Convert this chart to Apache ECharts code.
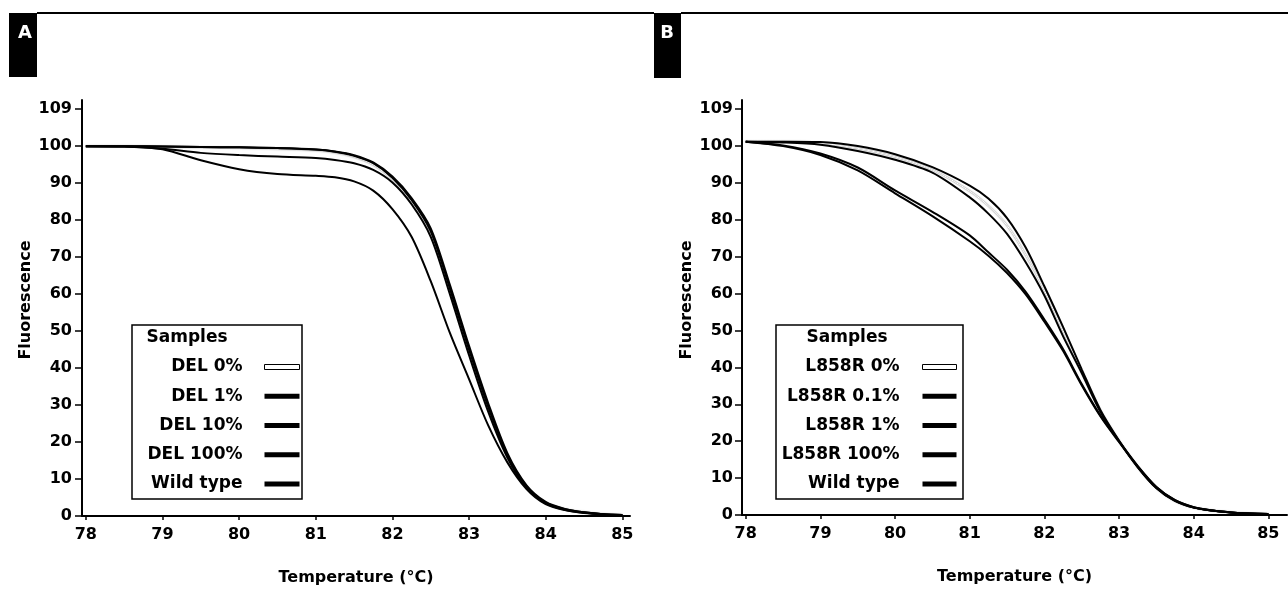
<!DOCTYPE html>
<html>
<head>
<meta charset="utf-8">
<script src="https://cdn.jsdelivr.net/npm/echarts@6/dist/echarts.min.js"></script>
<style>
html, body { margin: 0; background: #fff; }
#root { width: 1288px; height: 593px; }
</style>
</head>
<body>
<div id="root"></div>
<script>
// temperatures (°C) shared by both panels
const temps = [78, 78.5, 79, 79.5, 80, 80.5, 81, 81.25, 81.5, 81.75, 82, 82.25, 82.5, 82.75, 83, 83.25, 83.5, 83.75, 84, 84.25, 84.5, 84.75, 85];

// panel A - DEL
const namesA = ['DEL 0%', 'DEL 1%', 'DEL 10%', 'DEL 100%', 'Wild type'];
const del0 = [100, 100, 99.9, 99.7, 99.6, 99.3, 98.9, 98.3, 97.1, 95.0, 91.0, 85.0, 76.5, 61.0, 44.5, 29.0, 16.0, 7.8, 3.5, 1.8, 1.0, 0.5, 0.3];
const del1 = [100, 100, 99.9, 99.8, 99.7, 99.5, 99.1, 98.6, 97.6, 95.6, 91.8, 86.0, 77.8, 62.5, 46.0, 30.5, 17.0, 8.3, 3.8, 1.9, 1.0, 0.5, 0.3];
const del10 = [100, 99.9, 99.3, 98.2, 97.6, 97.2, 96.8, 96.3, 95.4, 93.6, 90.2, 84.3, 75.5, 60.0, 43.5, 28.2, 15.8, 7.6, 3.4, 1.7, 0.9, 0.5, 0.3];
const del100 = [100, 99.9, 99.2, 96.2, 93.8, 92.5, 92.0, 91.6, 90.5, 88.0, 83.0, 75.5, 63.5, 49.5, 37.0, 24.5, 14.5, 7.3, 3.2, 1.6, 0.8, 0.4, 0.2];
const wtA = [100, 100, 99.9, 99.8, 99.7, 99.5, 99.1, 98.5, 97.4, 95.4, 91.5, 85.5, 77.0, 61.5, 45.0, 29.5, 16.5, 8.0, 3.6, 1.8, 1.0, 0.5, 0.3];

// panel B - L858R
const namesB = ['L858R 0%', 'L858R 0.1%', 'L858R 1%', 'L858R 100%', 'Wild type'];
const l0 = [101.2, 101.2, 100.8, 99.4, 97.1, 93.6, 87.8, 83.8, 78.5, 70.5, 61.0, 50.0, 39.0, 28.3, 20.1, 13.0, 7.3, 3.8, 2.0, 1.2, 0.7, 0.4, 0.3];
const l01 = [101.2, 101.0, 100.4, 98.7, 96.3, 92.8, 86.1, 81.7, 76.2, 68.5, 59.5, 48.5, 38.5, 28.0, 20.0, 13.0, 7.3, 3.8, 2.0, 1.2, 0.7, 0.4, 0.3];
const l1 = [101.2, 100.2, 98.0, 94.2, 88.0, 82.2, 75.8, 71.2, 66.5, 60.5, 53.0, 45.0, 35.5, 27.0, 20.0, 13.3, 7.6, 4.0, 2.1, 1.2, 0.7, 0.4, 0.3];
const l100 = [101.2, 100.0, 97.6, 93.4, 87.2, 81.0, 74.2, 70.3, 65.6, 59.8, 52.4, 44.5, 35.2, 26.8, 19.8, 13.2, 7.6, 4.0, 2.1, 1.2, 0.7, 0.4, 0.3];
const wtB = [101.2, 101.2, 101.1, 100.0, 97.8, 94.3, 89.3, 85.8, 80.5, 72.5, 62.0, 51.0, 39.5, 28.5, 20.2, 13.0, 7.3, 3.8, 2.0, 1.2, 0.7, 0.4, 0.3];

// tick labels
const xTicks = [78, 79, 80, 81, 82, 83, 84, 85];
const yTicks = [0, 10, 20, 30, 40, 50, 60, 70, 80, 90, 100, 110];
const yTickLabels = ['0', '10', '20', '30', '40', '50', '60', '70', '80', '90', '100', '109'];

const font = 'DejaVu Sans';
const chart = echarts.init(document.getElementById('root'));

function pairs(vals) {
  return temps.map((t, i) => [t, vals[i]]);
}

function xAxis(idx, max) {
  return {
    gridIndex: idx, type: 'value', min: 77.95, max: max,
    name: 'Temperature (°C)', nameLocation: 'middle', nameGap: 54,
    nameTextStyle: { color: '#000', fontFamily: font, fontWeight: 'bold', fontSize: 16 },
    axisLine: { onZero: false, lineStyle: { color: '#000', width: 2 } },
    axisTick: { show: true, length: 4, customValues: xTicks, lineStyle: { color: '#000', width: 1.5 } },
    axisLabel: { customValues: xTicks, margin: 11, color: '#000', fontFamily: font, fontWeight: 'bold', fontSize: 16 },
    splitLine: { show: false }
  };
}

function yAxis(idx, margin) {
  return {
    gridIndex: idx, type: 'value', min: 0, max: 112.5,
    axisLine: { show: true, onZero: false, lineStyle: { color: '#000', width: 2 } },
    axisTick: { show: true, length: 7, customValues: yTicks, lineStyle: { color: '#000', width: 1.5 } },
    axisLabel: {
      customValues: yTicks, margin: margin,
      formatter: v => yTickLabels[yTicks.indexOf(v)],
      color: '#000', fontFamily: font, fontWeight: 'bold', fontSize: 16
    },
    splitLine: { show: false }
  };
}

function line(name, vals, idx, hollow) {
  return {
    name: name, type: 'line', xAxisIndex: idx, yAxisIndex: idx,
    data: pairs(vals), symbol: 'none', smooth: 0.3, silent: true,
    color: hollow ? '#fff' : '#000',
    lineStyle: hollow
      ? { color: '#fff', width: 1, shadowColor: 'rgba(0,0,0,0.8)', shadowBlur: 1.5 }
      : { color: '#000', width: 2 }
  };
}

function legendData(names) {
  return names.map((n, i) => i === 0
    ? { name: n, itemStyle: { color: '#fff', borderColor: '#000', borderWidth: 1 } }
    : { name: n, itemStyle: { color: '#000', borderWidth: 0 } });
}

function legend(names, right, iconW, gap) {
  return {
    data: legendData(names), orient: 'vertical', align: 'right',
    right: right, top: 358, padding: 0,
    itemWidth: iconW, itemHeight: 5, itemGap: 11.25, icon: 'rect',
    selectedMode: false,
    textStyle: { color: '#000', fontFamily: font, fontWeight: 'bold', fontSize: 17, lineHeight: 18, padding: [0, gap, 0, 0] }
  };
}

function txt(x, y, text, opts) {
  return {
    type: 'text', x: x, y: y,
    style: Object.assign({
      text: text, fill: '#000', font: 'bold 16px "DejaVu Sans"',
      align: 'center', verticalAlign: 'middle', textAlign: 'center', textVerticalAlign: 'middle'
    }, opts || {})
  };
}

const option = {
  animation: false,
  backgroundColor: '#fff',
  grid: [
    { left: 82, top: 100, width: 548, height: 416 },
    { left: 742, top: 100, width: 545, height: 415 }
  ],
  xAxis: [xAxis(0, 85.1), xAxis(1, 85.25)],
  yAxis: [yAxis(0, 10), yAxis(1, 9)],
  legend: [legend(namesA, 988, 35, 17), legend(namesB, 331, 34, 18)],
  graphic: [
    { type: 'rect', shape: { x: 9, y: 13, width: 28, height: 64 }, style: { fill: '#000' } },
    txt(25, 33, 'A', { fill: '#fff', font: 'bold 18px "DejaVu Sans"' }),
    { type: 'line', shape: { x1: 37, y1: 13, x2: 654, y2: 13 }, style: { stroke: '#000', lineWidth: 2 } },
    { type: 'rect', shape: { x: 654, y: 13, width: 27, height: 65 }, style: { fill: '#000' } },
    txt(667, 33, 'B', { fill: '#fff', font: 'bold 18px "DejaVu Sans"' }),
    { type: 'line', shape: { x1: 681, y1: 13, x2: 1288, y2: 13 }, style: { stroke: '#000', lineWidth: 2 } },
    { type: 'rect', shape: { x: 132, y: 325, width: 170, height: 174 }, style: { fill: null, stroke: '#000', lineWidth: 1.5 } },
    { type: 'rect', shape: { x: 776, y: 325, width: 187, height: 174 }, style: { fill: null, stroke: '#000', lineWidth: 1.5 } },
    txt(187, 338, 'Samples', { font: 'bold 17px "DejaVu Sans"' }),
    txt(847, 338, 'Samples', { font: 'bold 17px "DejaVu Sans"' }),
    Object.assign(txt(26, 300, 'Fluorescence', {}), { rotation: Math.PI / 2 }),
    Object.assign(txt(687, 300, 'Fluorescence', {}), { rotation: Math.PI / 2 })
  ],
  series: [
    line(namesA[0], del0, 0, true),
    line(namesA[1], del1, 0),
    line(namesA[2], del10, 0),
    line(namesA[3], del100, 0),
    line(namesA[4], wtA, 0),
    line(namesB[0], l0, 1, true),
    line(namesB[1], l01, 1),
    line(namesB[2], l1, 1),
    line(namesB[3], l100, 1),
    line(namesB[4], wtB, 1)
  ]
};
chart.setOption(option);
</script>
</body>
</html>
